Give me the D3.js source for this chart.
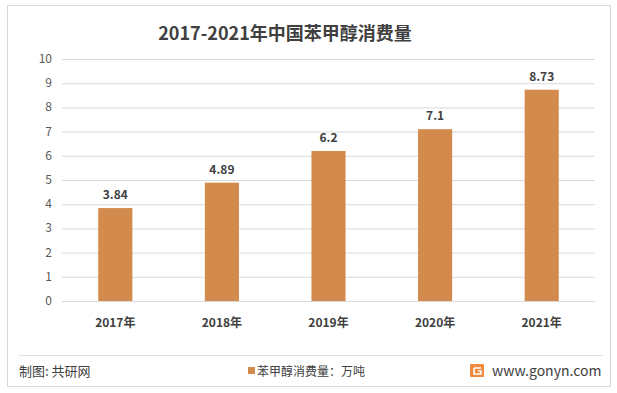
<!DOCTYPE html>
<html><head><meta charset="utf-8">
<script src="https://cdn.jsdelivr.net/npm/d3@7/dist/d3.min.js"></script>
<style>body{margin:0;background:#fff}svg{display:block}text{font-family:"Noto Sans CJK SC","Noto Sans",sans-serif}</style>
</head><body><svg id="c" width="617" height="393"></svg>
<script>
const categories = ["2017年","2018年","2019年","2020年","2021年"];
const values = [3.84, 4.89, 6.2, 7.1, 8.73];
const valueLabels = ["3.84","4.89","6.2","7.1","8.73"];
const yTicks = [0,1,2,3,4,5,6,7,8,9,10];
const title = "2017-2021年中国苯甲醇消费量";
const legendLabel = "苯甲醇消费量：万吨";

const svg = d3.select("#c");
svg.append("rect").attr("x",7.5).attr("y",5.5).attr("width",603).attr("height",381)
  .attr("fill","#fff").attr("stroke","#d9d9d9");

const x = d3.scaleBand().domain(categories).range([62,595]).paddingInner(0.68).paddingOuter(0.34);
const y = d3.scaleLinear().domain([0,10]).range([301,59]);

svg.append("text").attr("x",285).attr("y",40).attr("text-anchor","middle")
  .attr("font-size",18).attr("font-weight","bold").attr("fill","#404040").text(title);

const g = svg.append("g");
g.selectAll("line.grid").data(yTicks).join("line")
  .attr("x1",62).attr("x2",595).attr("y1",d=>y(d)+0.5).attr("y2",d=>y(d)+0.5)
  .attr("stroke","#d9d9d9").attr("stroke-width",1);
g.selectAll("text.yt").data(yTicks).join("text")
  .attr("x",52).attr("y",d=>y(d)+4).attr("text-anchor","end")
  .attr("font-size",12).attr("fill","#595959").text(d=>d);

g.selectAll("rect.bar").data(values).join("rect")
  .attr("x",(d,i)=>x(categories[i])).attr("width",x.bandwidth())
  .attr("y",d=>y(d)).attr("height",d=>y(0)-y(d)).attr("fill","#d38b4d");
g.selectAll("text.vl").data(values).join("text")
  .attr("x",(d,i)=>x(categories[i])+x.bandwidth()/2).attr("y",d=>y(d)-9)
  .attr("text-anchor","middle").attr("font-size",12).attr("font-weight","bold")
  .attr("fill","#404040").text((d,i)=>valueLabels[i]);
g.selectAll("text.xl").data(categories).join("text")
  .attr("x",d=>x(d)+x.bandwidth()/2).attr("y",327)
  .attr("text-anchor","middle").attr("font-size",12).attr("font-weight","bold")
  .attr("fill","#404040").text(d=>d);

svg.append("line").attr("x1",19).attr("x2",603).attr("y1",355.5).attr("y2",355.5).attr("stroke","#e0e0e0");
svg.append("text").attr("x",19).attr("y",376).attr("font-size",13).attr("fill","#404040").text("制图: 共研网");
svg.append("rect").attr("x",248).attr("y",367).attr("width",7).attr("height",7).attr("fill","#d38b4d");
svg.append("text").attr("x",257).attr("y",376).attr("font-size",12).attr("fill","#404040").text(legendLabel);
svg.append("rect").attr("x",470).attr("y",364).attr("width",14).attr("height",13).attr("rx",1).attr("fill","#f08a3c");
svg.append("path").attr("d","M474,368 h7 M474,368 v6 h7 v-3 h-3").attr("stroke","#fff").attr("stroke-width",1.6).attr("fill","none");
svg.append("text").attr("x",492).attr("y",376).attr("font-size",14).attr("fill","#404040").text("www.gonyn.com");
</script></body></html>
